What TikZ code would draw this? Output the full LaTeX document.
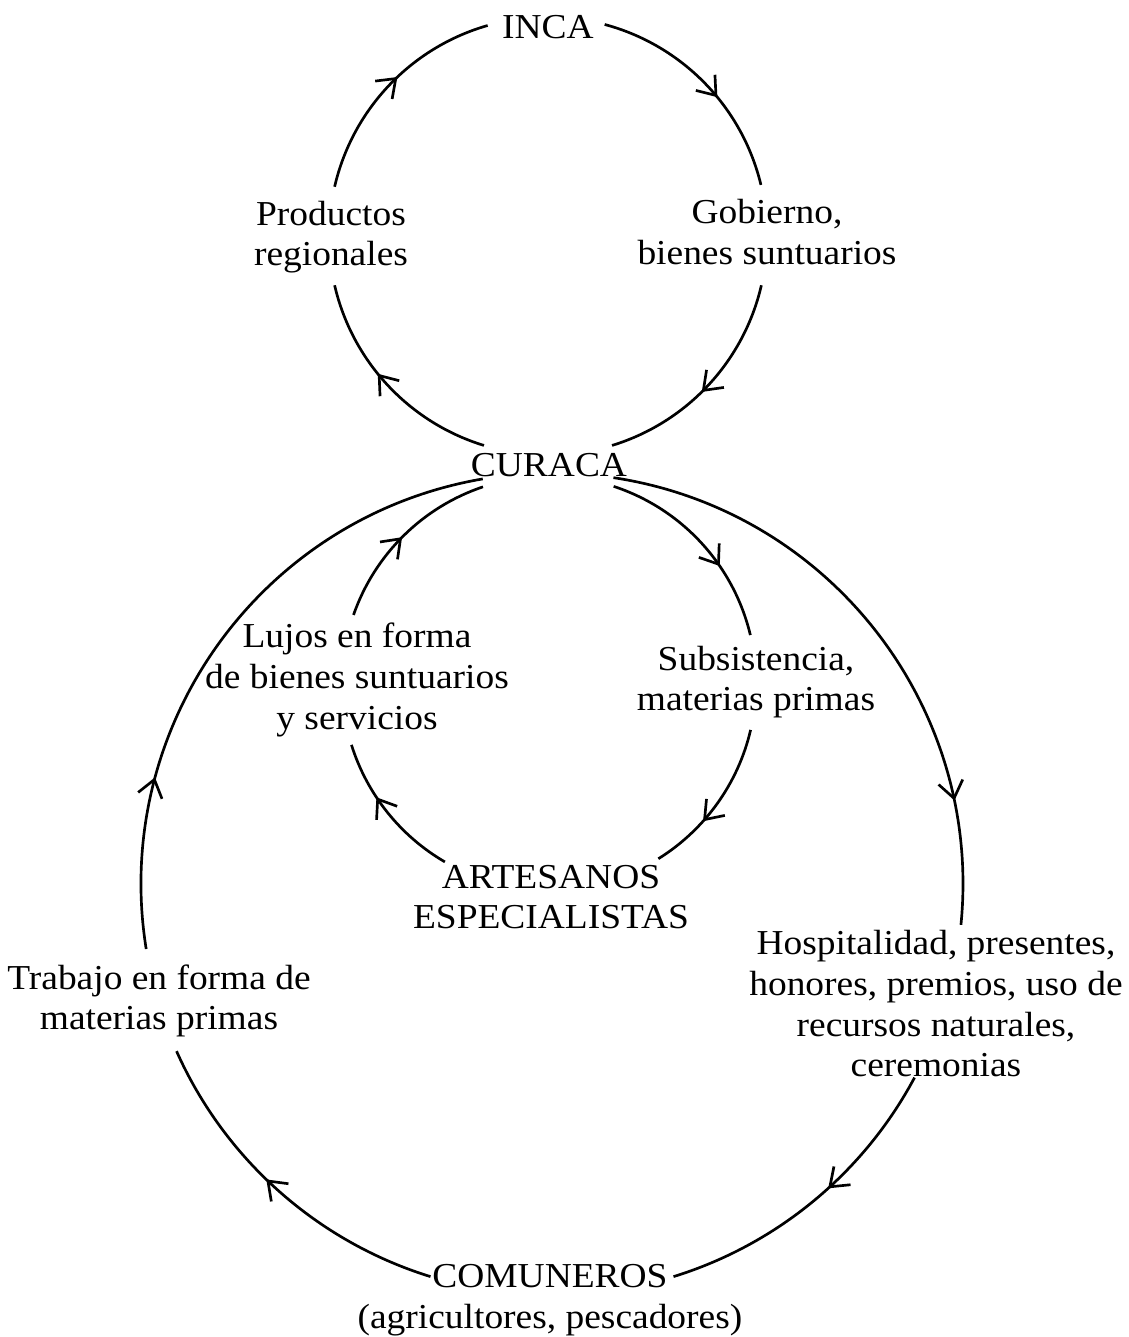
\documentclass[tikz,border=0pt]{standalone}
\usepackage{fontspec}
\setmainfont{Liberation Serif}[FakeStretch=1.07]
\usetikzlibrary{arrows.meta,decorations.markings,calc}
\begin{document}
\begin{tikzpicture}[x=0.3pt,y=-0.3pt,
  lbl/.style={align=center, inner sep=0pt, font=\fontsize{10.5}{12.2}\selectfont},
  cyc/.style={line width=0.8pt},
  flow/.style={postaction={decorate}, decoration={markings,
     mark=at position #1 with {\arrow{Straight Barb[length=5pt,width=7.4pt,line width=0.8pt]}}}}
]
\useasboundingbox (0,0) rectangle (1129,1337);
% circle centres
\coordinate (ct) at (548,236);
\coordinate (cm) at (549,683);
\coordinate (cb) at (552,884);
% labels
\node[lbl] (inca) at (548,27) {INCA};
\node[lbl] (prod) at (331,237) {Productos\\regionales};
\node[lbl] (gob) at (767,232) {Gobierno,\\bienes suntuarios};
\node[lbl] (curaca) at (549,465) {CURACA};
\node[lbl] (lujos) at (357,680) {Lujos en forma\\de bienes suntuarios\\y servicios};
\node[lbl] (subs) at (756,682) {Subsistencia,\\materias primas};
\node[lbl] (art) at (551,897) {ARTESANOS\\ESPECIALISTAS};
\node[lbl] (trab) at (159,1001) {Trabajo en forma de\\materias primas};
\node[lbl] (hosp) at (936,1004) {Hospitalidad, presentes,\\honores, premios, uso de\\recursos naturales,\\ceremonias};
\node[lbl] (com) at (550,1300) {COMUNEROS\\(agricultores, pescadores)};
% top circle: CURACA -> INCA -> CURACA
\draw[cyc,flow=0.567] ($(ct)+(107:219)$) arc[start angle=107,end angle=167,radius=219];
\draw[cyc,flow=0.55]  ($(ct)+(193:219)$) arc[start angle=193,end angle=254,radius=219];
\draw[cyc,flow=0.58]  ($(ct)+(285:219)$) arc[start angle=285,end angle=346.5,radius=219];
\draw[cyc,flow=0.54]  ($(ct)+(373:219)$) arc[start angle=373,end angle=433,radius=219];
% middle circle: CURACA -> ARTESANOS -> CURACA
\draw[cyc,flow=0.62] ($(cm)+(120.2:207)$) arc[start angle=120.2,end angle=162.6,radius=207];
\draw[cyc,flow=0.49] ($(cm)+(199.2:207)$) arc[start angle=199.2,end angle=251.4,radius=207];
\draw[cyc,flow=0.64] ($(cm)+(288.2:207)$) arc[start angle=288.2,end angle=346.6,radius=207];
\draw[cyc,flow=0.64] ($(cm)+(373.1:207)$) arc[start angle=373.1,end angle=418.1,radius=207];
% big circle: CURACA -> COMUNEROS -> CURACA
\draw[cyc,flow=0.55] ($(cb)+(107.2:411)$) arc[start angle=107.2,end angle=156,radius=411];
\draw[cyc,flow=0.27] ($(cb)+(170.9:411)$) arc[start angle=170.9,end angle=260.3,radius=411];
\draw[cyc,flow=0.80] ($(cb)+(278.6:411)$) arc[start angle=278.6,end angle=365.7,radius=411];
\draw[cyc,flow=0.44] ($(cb)+(388.1:411)$) arc[start angle=388.1,end angle=432.8,radius=411];
\end{tikzpicture}
\end{document}
